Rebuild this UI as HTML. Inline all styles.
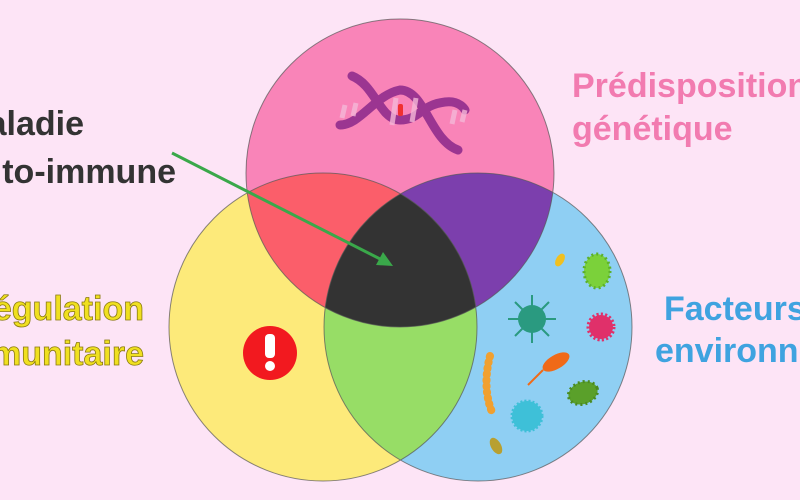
<!DOCTYPE html>
<html><head><meta charset="utf-8"><style>
html,body{margin:0;padding:0;background:#fde4f6;}
svg{display:block}
text{font-family:"Liberation Sans",sans-serif;font-weight:bold;font-size:34px}
</style></head><body>
<svg width="800" height="500" viewBox="0 0 800 500">
<defs>
<clipPath id="cT"><circle cx="400" cy="173" r="154"/></clipPath>
<clipPath id="cL"><circle cx="323" cy="327" r="154"/></clipPath>
<clipPath id="cR"><circle cx="478" cy="327" r="154"/></clipPath>
</defs>
<rect width="800" height="500" fill="#fde4f6"/>
<circle cx="400" cy="173" r="154" fill="#f984b8"/>
<circle cx="323" cy="327" r="154" fill="#fdea7a"/>
<circle cx="478" cy="327" r="154" fill="#8fcff3"/>
<circle cx="323" cy="327" r="154" fill="#fb5e6a" clip-path="url(#cT)"/>
<circle cx="478" cy="327" r="154" fill="#7c3fad" clip-path="url(#cT)"/>
<g clip-path="url(#cL)"><circle cx="478" cy="327" r="154" fill="#97dd66"/></g>
<g clip-path="url(#cT)"><g clip-path="url(#cL)"><circle cx="478" cy="327" r="154" fill="#333333"/></g></g>
<g fill="none" stroke="#555" stroke-width="1" opacity="0.7">
<circle cx="400" cy="173" r="154"/><circle cx="323" cy="327" r="154"/><circle cx="478" cy="327" r="154"/>
</g>
<!-- DNA -->
<g fill="none" stroke="#9b3591" stroke-width="9" stroke-linecap="round">
<path d="M352 76 C375 85,380 120,400 120 C420 120,420 105,445 102 C460 100,465 110,465 110"/>
<path d="M340 125 C360 125,375 95,400 90 C425 90,430 140,458 150"/>
</g>
<g stroke="#f5b8d8" stroke-width="5" opacity="0.8">
<line x1="342" y1="118" x2="345" y2="105"/><line x1="353" y1="116" x2="356" y2="103"/>
<line x1="392" y1="125" x2="396" y2="98"/><line x1="412" y1="122" x2="416" y2="98"/>
<line x1="452" y1="124" x2="455" y2="110"/><line x1="462" y1="122" x2="465" y2="110"/>
</g>
<rect x="398" y="104" width="5" height="12" rx="2" fill="#f03030"/>
<!-- exclamation -->
<circle cx="270" cy="353" r="27" fill="#f2191f"/>
<rect x="265" y="334" width="10" height="24" rx="4" fill="#fff"/>
<circle cx="270" cy="366" r="5" fill="#fff"/>
<!-- microbes -->
<ellipse cx="597" cy="271" rx="13" ry="17" fill="#7bd13a" stroke="#5cb02a" stroke-width="3" stroke-dasharray="2 3"/>
<ellipse cx="560" cy="260" rx="4" ry="7" fill="#f0c020" transform="rotate(30 560 260)"/>
<circle cx="532" cy="319" r="14" fill="#2a9a80"/>
<g stroke="#2a9a80" stroke-width="2"><line x1="532" y1="295" x2="532" y2="343"/><line x1="508" y1="319" x2="556" y2="319"/><line x1="515" y1="302" x2="549" y2="336"/><line x1="549" y1="302" x2="515" y2="336"/></g>
<circle cx="601" cy="327" r="12" fill="#e0306a" stroke="#e0306a" stroke-width="5" stroke-dasharray="2 2"/>
<ellipse cx="556" cy="362" rx="15" ry="7" fill="#f06a18" transform="rotate(-30 556 362)"/>
<path d="M543 370 L528 385" stroke="#f06a18" stroke-width="2"/>
<ellipse cx="583" cy="393" rx="15" ry="11" fill="#5aa02a" stroke="#4a8a20" stroke-width="3" stroke-dasharray="2 3" transform="rotate(-20 583 393)"/>
<path d="M490 356 C485 375,485 395,492 412" stroke="#f0a030" stroke-width="8" fill="none" stroke-linecap="round" stroke-dasharray="1 5"/>
<circle cx="527" cy="416" r="15" fill="#3ec0d8" stroke="#3ec0d8" stroke-width="3" stroke-dasharray="2 2"/>
<ellipse cx="496" cy="446" rx="5" ry="9" fill="#b8a030" transform="rotate(-30 496 446)"/>
<!-- arrow -->
<line x1="172" y1="153" x2="386" y2="262" stroke="#3aa84a" stroke-width="3"/>
<polygon points="393,266 376,265 383,252" fill="#3aa84a"/>
<!-- labels -->
<text x="84" y="135" text-anchor="end" fill="#333">Maladie</text>
<text x="176" y="183" text-anchor="end" fill="#333">auto-immune</text>
<text x="144" y="320" text-anchor="end" fill="#f0e020" stroke="#8a7a10" stroke-width="0.8">Régulation</text>
<text x="144" y="365" text-anchor="end" fill="#f0e020" stroke="#8a7a10" stroke-width="0.8">immunitaire</text>
<text x="572" y="97" fill="#f27bb0">Prédisposition</text>
<text x="572" y="140" fill="#f27bb0">génétique</text>
<text x="664" y="320" fill="#3fa3e0">Facteurs</text>
<text x="655" y="362" fill="#3fa3e0">environnementaux</text>
</svg>
</body></html>
